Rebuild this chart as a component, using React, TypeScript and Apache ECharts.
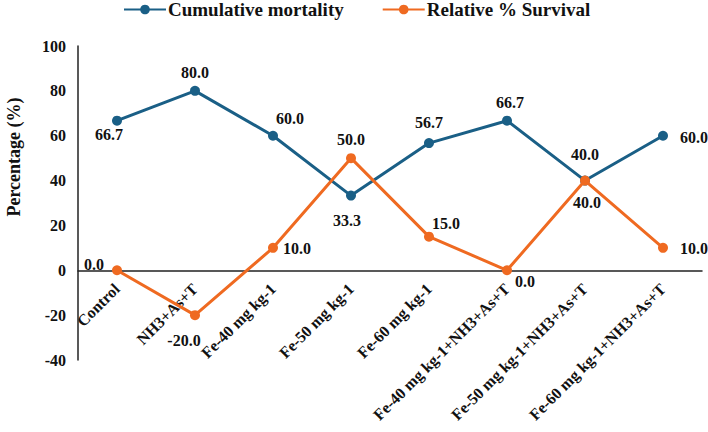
import React, { useEffect, useRef } from "react";
import * as echarts from "echarts";

const categories = [
  "Control",
  "NH3+As+T",
  "Fe-40 mg kg-1",
  "Fe-50 mg kg-1",
  "Fe-60 mg kg-1",
  "Fe-40 mg kg-1+NH3+As+T",
  "Fe-50 mg kg-1+NH3+As+T",
  "Fe-60 mg kg-1+NH3+As+T",
];

const cumulativeMortality = [66.7, 80.0, 60.0, 33.3, 56.7, 66.7, 40.0, 60.0];
const relativeSurvival = [0.0, -20.0, 10.0, 50.0, 15.0, 0.0, 40.0, 10.0];

const Y_MIN = -40;
const Y_MAX = 100;
const Y_STEP = 20;
const Y_TITLE = "Percentage (%)";

// label offsets (px) from each point, so labels avoid the crossing lines
const mortalityLabelOffsets = [
  [-8, 14], [0, -18], [17, -17], [-4, 25], [0, -21], [3, -18], [0, -26], [31, 2],
];
const survivalLabelOffsets = [
  [-23, -6], [-11, 25], [24, 1], [0, -19], [17, -13], [18, 11], [2, 22], [31, 1],
];

const BLUE = "#1a5f86";
const ORANGE = "#ef6a21";
const FONT = "'Liberation Serif', 'Times New Roman', serif";

const W = 708;
const H = 432;
const GRID = { left: 78, right: 6, top: 46, bottom: 72 };

function withLabels(values: number[], offsets: number[][]) {
  return values.map((v, i) => ({
    value: v,
    label: {
      show: true,
      position: "inside",
      offset: offsets[i],
      formatter: () => v.toFixed(1),
    },
  }));
}

export default function App() {
  const ref = useRef<HTMLDivElement>(null);

  useEffect(() => {
    if (!ref.current) return;
    const chart = echarts.init(ref.current, undefined, { renderer: "svg" });
    // the category axis (line and labels) sits on the zero line
    const plotH = H - GRID.top - GRID.bottom;
    const zeroFromBottom = ((0 - Y_MIN) / (Y_MAX - Y_MIN)) * plotH;
    const labelStyle = {
      color: "#111",
      fontFamily: FONT,
      fontWeight: "bold" as const,
      fontSize: 16,
      align: "center" as const,
      verticalAlign: "middle" as const,
    };
    chart.setOption({
      animation: false,
      backgroundColor: "#fff",
      textStyle: { fontFamily: FONT },
      legend: {
        top: 0,
        left: 123,
        padding: 0,
        itemWidth: 42,
        itemHeight: 12,
        itemGap: 38,
        textStyle: {
          fontFamily: FONT,
          fontWeight: "bold",
          fontSize: 19,
          color: "#111",
          padding: [0, 0, 0, -3],
        },
        data: ["Cumulative mortality", "Relative % Survival"],
      },
      graphic: [
        {
          type: "text",
          x: 14,
          y: 157,
          rotation: Math.PI / 2,
          style: {
            text: Y_TITLE,
            fontFamily: FONT,
            fontWeight: "bold",
            fontSize: 18,
            fill: "#111",
            align: "center",
            verticalAlign: "middle",
          },
        },
      ],
      grid: {
        ...GRID,
        containLabel: false,
        outerBoundsMode: "none",
      },
      xAxis: {
        type: "category",
        data: categories,
        boundaryGap: true,
        offset: -zeroFromBottom,
        axisLine: { onZero: false, lineStyle: { color: "#222", width: 1.5 } },
        axisTick: { show: false },
        axisLabel: {
          interval: 0,
          rotate: 45,
          margin: 16,
          color: "#111",
          fontFamily: FONT,
          fontWeight: "bold",
          fontSize: 16,
        },
        splitLine: { show: false },
      },
      yAxis: {
        type: "value",
        min: Y_MIN,
        max: Y_MAX,
        interval: Y_STEP,
        axisLine: { show: true, lineStyle: { color: "#222", width: 1.5 } },
        axisTick: { show: false },
        splitLine: { show: false },
        axisLabel: {
          margin: 12,
          color: "#111",
          fontFamily: FONT,
          fontWeight: "bold",
          fontSize: 16,
        },
      },
      series: [
        {
          name: "Cumulative mortality",
          type: "line",
          data: withLabels(cumulativeMortality, mortalityLabelOffsets),
          symbol: "circle",
          symbolSize: 10,
          itemStyle: { color: BLUE },
          lineStyle: { color: BLUE, width: 3 },
          label: labelStyle,
          z: 2,
        },
        {
          name: "Relative % Survival",
          type: "line",
          data: withLabels(relativeSurvival, survivalLabelOffsets),
          symbol: "circle",
          symbolSize: 10,
          itemStyle: { color: ORANGE },
          lineStyle: { color: ORANGE, width: 3 },
          label: labelStyle,
          z: 3,
        },
      ],
    });
    return () => chart.dispose();
  }, []);

  return (
    <div
      ref={ref}
      style={{ position: "fixed", left: 0, top: 0, width: W, height: H }}
    />
  );
}
